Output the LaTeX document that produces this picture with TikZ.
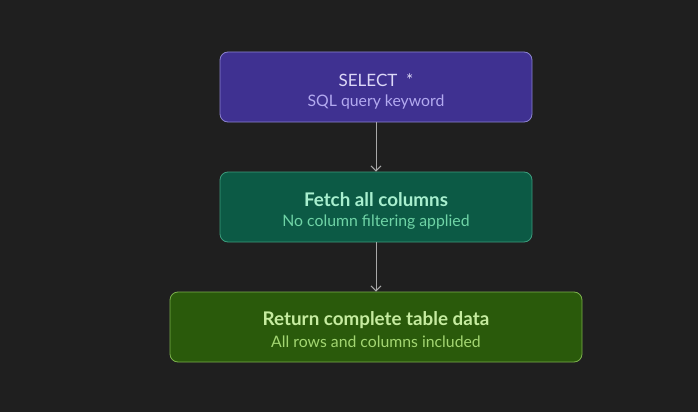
\documentclass[tikz,border=0pt]{standalone}
\usepackage{fontspec}
\setmainfont{Lato}
\usetikzlibrary{arrows.meta}
\definecolor{bg}{HTML}{1F1F1F}
\definecolor{pfill}{HTML}{3F3191}
\definecolor{pdraw}{HTML}{8B82CF}
\definecolor{ptitle}{HTML}{DCD8F7}
\definecolor{psub}{HTML}{B3AAF0}
\definecolor{gfill}{HTML}{0C5A45}
\definecolor{gdraw}{HTML}{3C9C7C}
\definecolor{gtitle}{HTML}{A8EFCF}
\definecolor{gsub}{HTML}{6FD4A6}
\definecolor{lfill}{HTML}{2A5A0B}
\definecolor{ldraw}{HTML}{7BB04C}
\definecolor{ltitle}{HTML}{C6ECA0}
\definecolor{lsub}{HTML}{A3D672}
\definecolor{arr}{HTML}{A8A8A8}
\tikzset{
  box/.style={rounded corners=8pt, line width=0.8pt, minimum height=70pt, align=center, inner sep=0pt},
  ttl/.style={font=\fontsize{18.8}{22}\selectfont\bfseries},
  sub/.style={font=\fontsize{15.8}{19}\selectfont},
  conn/.style={draw=arr, line width=1pt, -{Straight Barb[length=5pt,width=10pt,line width=1pt]}}
}
\begin{document}
\begin{tikzpicture}[x=1pt,y=-1pt]
\fill[bg] (0,0) rectangle (698,412);
\useasboundingbox (0,0) rectangle (698,412);
\node[box, fill=pfill, draw=pdraw, minimum width=312pt] (a) at (376,87) {};
\node[font=\fontsize{17}{20}\selectfont, text=ptitle] (at) at (376,80) {SELECT\ \ *};
\node[sub, text=psub] (as) at (376,102) {SQL query keyword};
\node[box, fill=gfill, draw=gdraw, minimum width=312pt] (b) at (376,207) {};
\node[ttl, text=gtitle] (bt) at (376,200) {Fetch all columns};
\node[sub, text=gsub] (bs) at (376,222) {No column filtering applied};
\node[box, fill=lfill, draw=ldraw, minimum width=412pt] (c) at (376,327) {};
\node[ttl, text=ltitle] (ct) at (376,320) {Return complete table data};
\node[sub, text=lsub] (cs) at (376,342) {All rows and columns included};
\draw[conn] (a.south) -- (b.north);
\draw[conn] (b.south) -- (c.north);
\end{tikzpicture}
\end{document}
